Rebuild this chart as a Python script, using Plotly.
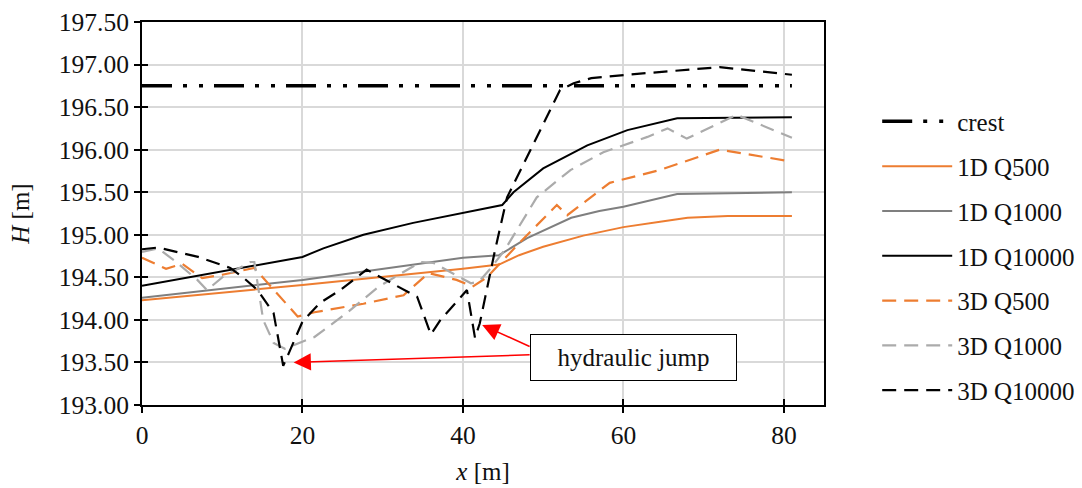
import plotly.graph_objects as go

# Crest level of the weir
crest_x = [0, 81]
crest_y = [196.75, 196.75]

# 1D model water levels
q500_1d_x = [0, 20, 40, 44.5, 47, 50, 55, 60, 65, 68, 73, 81]
q500_1d_y = [194.23, 194.41, 194.60, 194.65, 194.76, 194.86, 194.99, 195.09, 195.16, 195.20, 195.22, 195.22]

q1000_1d_x = [0, 20, 40, 44.5, 48, 53.5, 57, 60, 66.7, 75, 81]
q1000_1d_y = [194.26, 194.47, 194.73, 194.76, 194.96, 195.20, 195.28, 195.33, 195.48, 195.49, 195.50]

q10000_1d_x = [0, 20, 22.6, 27.6, 33.8, 40, 44.9, 46.3, 50, 55.5, 60.5, 66.7, 81]
q10000_1d_y = [194.40, 194.74, 194.84, 195.00, 195.14, 195.26, 195.35, 195.50, 195.78, 196.05, 196.23, 196.37, 196.38]

# 3D model water levels
q500_3d_x = [0, 3, 5, 7.5, 10, 14, 19.4, 21.5, 27.6, 32.6, 35.7, 39.2, 41.2, 43, 47, 51.7, 53, 58.3, 64.5, 72, 81]
q500_3d_y = [194.73, 194.60, 194.66, 194.49, 194.53, 194.61, 194.04, 194.09, 194.19, 194.29, 194.55, 194.47, 194.39,
             194.50, 194.90, 195.35, 195.23, 195.61, 195.76, 196.00, 195.86]

q1000_3d_x = [0, 2, 4, 6.9, 8.1, 10, 13.5, 14, 15.1, 16.4, 17.8, 21.5, 25.5, 29.5, 34.7, 36.3, 41, 42, 43.4, 45.2,
              49.2, 53.4, 57.5, 63, 65.5, 67.9, 71, 74.1, 81]
q1000_3d_y = [194.80, 194.84, 194.70, 194.47, 194.35, 194.50, 194.68, 194.68, 194.00, 193.73, 193.66, 193.80, 194.08,
              194.39, 194.68, 194.67, 194.43, 194.45, 194.60, 194.82, 195.44, 195.76, 195.97, 196.15, 196.25, 196.13,
              196.27, 196.41, 196.14]

q10000_3d_x = [0, 2, 7, 11, 12.6, 14.4, 16.4, 17.6, 18.3, 20, 22.2, 24.7, 28, 32.6, 34.3, 36, 37.2, 40.5, 41.5, 42.1,
               44, 45.5, 48.8, 51, 52.1, 53.8, 56, 60.4, 72, 81]
q10000_3d_y = [194.83, 194.85, 194.74, 194.61, 194.50, 194.35, 194.08, 193.46, 193.61, 193.98, 194.20, 194.35, 194.59,
               194.35, 194.27, 193.83, 194.00, 194.35, 193.79, 193.96, 194.82, 195.44, 196.08, 196.50, 196.70, 196.78,
               196.84, 196.88, 196.97, 196.88]

# Hydraulic jump callout
jump_label = "hydraulic jump"
jump_label_pos = (61.3, 193.56)
jump_tips = [(18.9, 193.50), (42.4, 193.94)]
jump_tails = [(48.5, 193.59), (48.5, 193.68)]

ORANGE = "#ED7D31"
GREY_DARK = "#7F7F7F"
GREY_LIGHT = "#ABABAB"
FONT = "Liberation Serif"
TEXT_COLOR = "#111"
DASH = "14px,8px"

series = [
    ("crest", crest_x, crest_y, "black", 3.5, "30px,11px,4px,12px,4px,11px"),
    ("1D Q500", q500_1d_x, q500_1d_y, ORANGE, 2, "solid"),
    ("1D Q1000", q1000_1d_x, q1000_1d_y, GREY_DARK, 2, "solid"),
    ("1D Q10000", q10000_1d_x, q10000_1d_y, "black", 2, "solid"),
    ("3D Q500", q500_3d_x, q500_3d_y, ORANGE, 2.2, DASH),
    ("3D Q1000", q1000_3d_x, q1000_3d_y, GREY_LIGHT, 2.2, DASH),
    ("3D Q10000", q10000_3d_x, q10000_3d_y, "black", 2.2, DASH),
]

fig = go.Figure()
for name, xs, ys, color, width, dash in series:
    fig.add_trace(go.Scatter(
        x=xs, y=ys, name=name, mode="lines", legendgroup=name,
        line=dict(color=color, width=width, dash=dash),
    ))

# empty trace so the companion (inner tick) axes get drawn
fig.add_trace(go.Scatter(x=[None], y=[None], xaxis="x2", yaxis="y2",
                         mode="lines", showlegend=False, hoverinfo="skip"))

axis_common = dict(
    showline=True, linecolor="black", linewidth=2, mirror=True,
    ticks="outside", ticklen=6, tickwidth=2, tickcolor="black",
    showgrid=True, gridcolor="#D9D9D9", gridwidth=2,
    zeroline=False,
    tickfont=dict(family=FONT, size=25.5, color=TEXT_COLOR),
)
inner_ticks = dict(ticks="inside", ticklen=6, tickwidth=2, tickcolor="black",
                   showticklabels=False, showgrid=False, showline=False, zeroline=False)

fig.update_layout(
    width=1082, height=488,
    margin=dict(l=142, r=258, t=22, b=83, autoexpand=False),
    paper_bgcolor="white", plot_bgcolor="white",
    font=dict(family=FONT, size=25, color=TEXT_COLOR),
    xaxis=dict(range=[0, 85], dtick=20, tick0=0,
               title=dict(text="<i>x</i> [m]", font=dict(family=FONT, size=25), standoff=14),
               **axis_common),
    yaxis=dict(range=[193, 197.5], dtick=0.5, tick0=193, tickformat=".2f",
               title=dict(text="<i>H</i> [m]", font=dict(family=FONT, size=25), standoff=22),
               **axis_common),
    xaxis2=dict(overlaying="x", anchor="y2", range=[0, 85], dtick=20, tick0=0, **inner_ticks),
    yaxis2=dict(overlaying="y", anchor="x2", range=[193, 197.5], dtick=0.5, tick0=193, **inner_ticks),
    legend=dict(x=1.078, y=0.80, xanchor="left", yanchor="top",
                font=dict(family=FONT, size=25, color=TEXT_COLOR),
                traceorder="grouped", tracegroupgap=9.3, itemwidth=70,
                bgcolor="rgba(0,0,0,0)"),
    showlegend=True,
)

fig.add_annotation(
    x=jump_label_pos[0], y=jump_label_pos[1], xref="x", yref="y",
    text=jump_label, showarrow=False,
    font=dict(family=FONT, size=25, color=TEXT_COLOR),
    bgcolor="white", bordercolor="black", borderwidth=1, borderpad=5,
    width=195, height=35,
)
for (tx, ty), (sx, sy) in zip(jump_tips, jump_tails):
    fig.add_annotation(
        x=tx, y=ty, ax=sx, ay=sy, xref="x", yref="y", axref="x", ayref="y",
        text="", showarrow=True, arrowhead=2, arrowsize=2.3, arrowwidth=1.5,
        arrowcolor="#FF0000", standoff=0, startstandoff=0,
    )

fig.write_html("out.html")
